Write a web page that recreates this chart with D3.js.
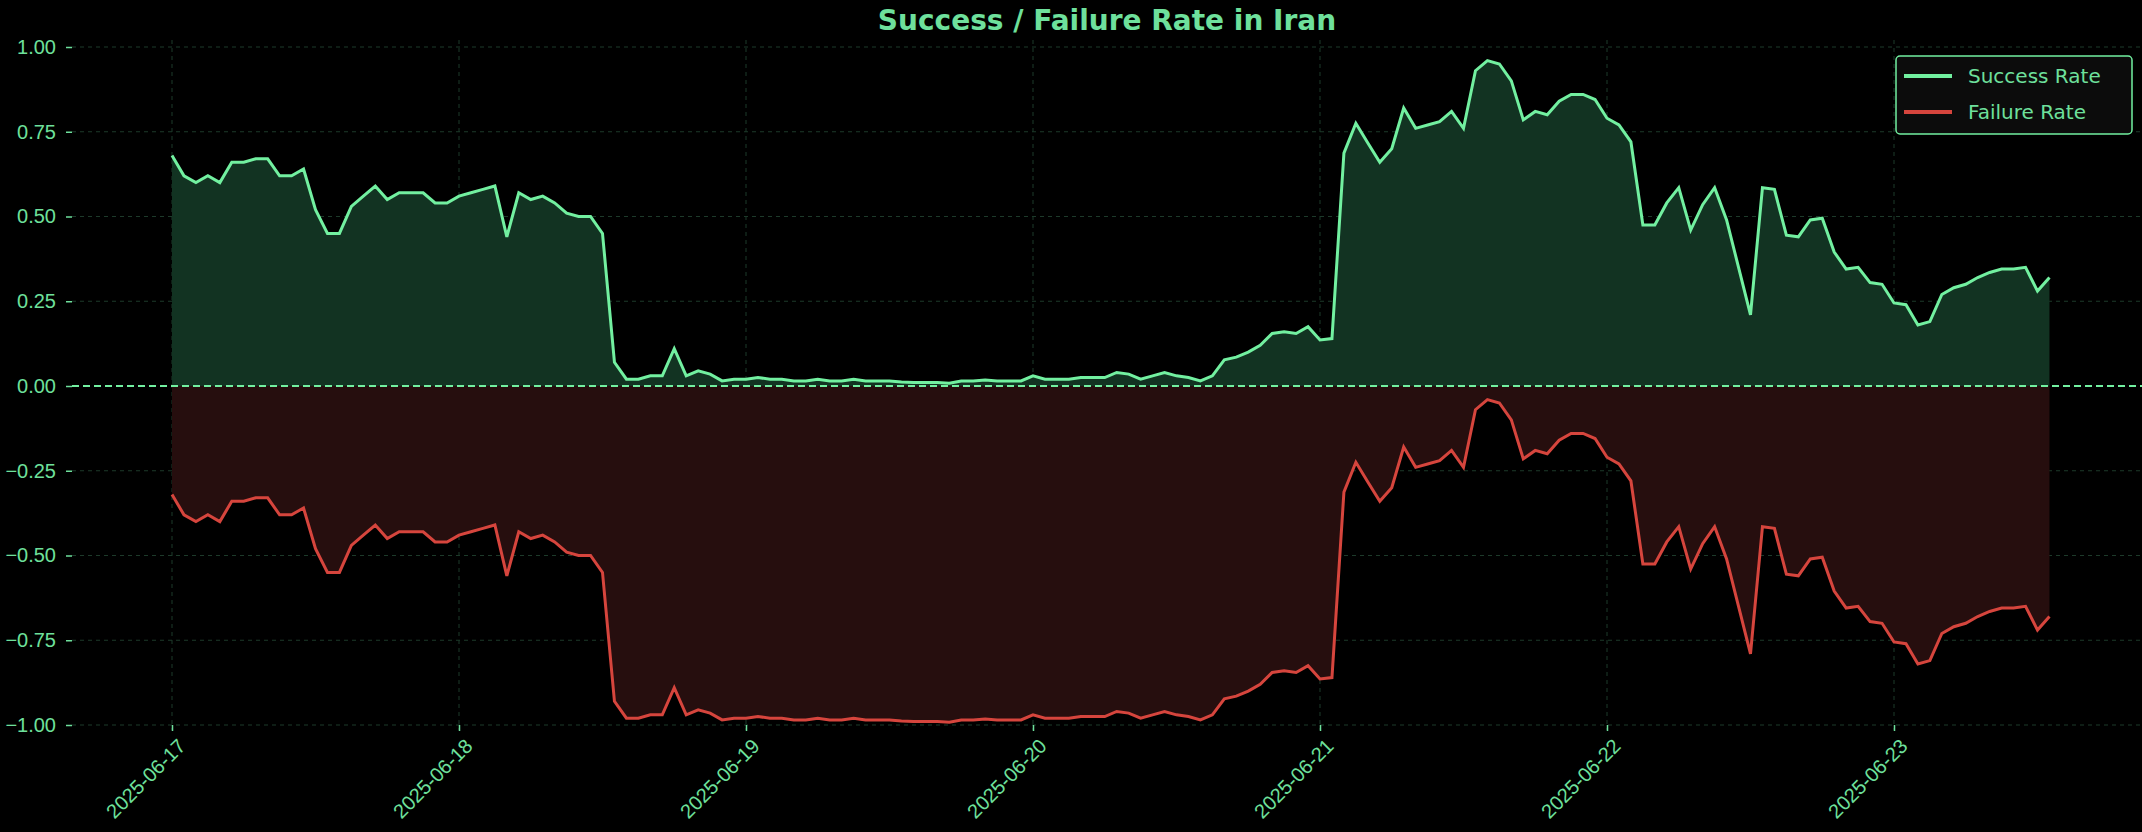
<!DOCTYPE html>
<html>
<head>
<meta charset="utf-8">
<script src="https://cdn.jsdelivr.net/npm/d3@7"></script>
<style>
  body { margin: 0; background: #000; }
  svg { display: block; font-family: "DejaVu Sans", sans-serif; }
</style>
</head>
<body>
<svg id="chart" width="2142" height="832"></svg>
<script>
// hourly samples starting 2025-06-17 00:00
const startTime = "2025-06-17T00:00:00";
const tickLabels = ["2025-06-17", "2025-06-18", "2025-06-19", "2025-06-20", "2025-06-21", "2025-06-22", "2025-06-23"];
const yTicks = [-1, -0.75, -0.5, -0.25, 0, 0.25, 0.5, 0.75, 1];

const successRate = [
  0.68, 0.62, 0.60, 0.62, 0.60, 0.66, 0.66, 0.67, 0.67, 0.62, 0.62, 0.64, 0.52, 0.45, 0.45, 0.53, 0.56, 0.59, 0.55, 0.57, 0.57, 0.57, 0.54, 0.54,
  0.56, 0.57, 0.58, 0.59, 0.44, 0.57, 0.55, 0.56, 0.54, 0.51, 0.50, 0.50, 0.45, 0.07, 0.02, 0.02, 0.03, 0.03, 0.11, 0.03, 0.045, 0.035, 0.015, 0.02,
  0.02, 0.025, 0.02, 0.02, 0.015, 0.015, 0.02, 0.015, 0.015, 0.02, 0.015, 0.015, 0.015, 0.012, 0.01, 0.01, 0.01, 0.008, 0.015, 0.015, 0.018, 0.015, 0.015, 0.015,
  0.03, 0.02, 0.02, 0.02, 0.025, 0.025, 0.025, 0.04, 0.035, 0.02, 0.03, 0.04, 0.03, 0.025, 0.015, 0.03, 0.077, 0.085, 0.10, 0.12, 0.155, 0.16, 0.155, 0.175,
  0.136, 0.14, 0.687, 0.775, 0.717, 0.66, 0.70, 0.82, 0.76, 0.77, 0.78, 0.81, 0.76, 0.93, 0.96, 0.95, 0.90, 0.785, 0.81, 0.80, 0.84, 0.86, 0.86, 0.845,
  0.79, 0.77, 0.72, 0.475, 0.475, 0.54, 0.585, 0.46, 0.535, 0.585, 0.49, 0.35, 0.21, 0.585, 0.58, 0.445, 0.44, 0.49, 0.495, 0.395, 0.345, 0.35, 0.305, 0.30,
  0.245, 0.24, 0.18, 0.19, 0.27, 0.29, 0.30, 0.32, 0.335, 0.345, 0.345, 0.35, 0.28, 0.32
];

const failureRate = [
  -0.32, -0.38, -0.40, -0.38, -0.40, -0.34, -0.34, -0.33, -0.33, -0.38, -0.38, -0.36, -0.48, -0.55, -0.55, -0.47, -0.44, -0.41, -0.45, -0.43, -0.43, -0.43, -0.46, -0.46,
  -0.44, -0.43, -0.42, -0.41, -0.56, -0.43, -0.45, -0.44, -0.46, -0.49, -0.50, -0.50, -0.55, -0.93, -0.98, -0.98, -0.97, -0.97, -0.89, -0.97, -0.955, -0.965, -0.985, -0.98,
  -0.98, -0.975, -0.98, -0.98, -0.985, -0.985, -0.98, -0.985, -0.985, -0.98, -0.985, -0.985, -0.985, -0.988, -0.99, -0.99, -0.99, -0.992, -0.985, -0.985, -0.982, -0.985, -0.985, -0.985,
  -0.97, -0.98, -0.98, -0.98, -0.975, -0.975, -0.975, -0.96, -0.965, -0.98, -0.97, -0.96, -0.97, -0.975, -0.985, -0.97, -0.923, -0.915, -0.90, -0.88, -0.845, -0.84, -0.845, -0.825,
  -0.864, -0.86, -0.313, -0.225, -0.283, -0.34, -0.30, -0.18, -0.24, -0.23, -0.22, -0.19, -0.24, -0.07, -0.04, -0.05, -0.10, -0.215, -0.19, -0.20, -0.16, -0.14, -0.14, -0.155,
  -0.21, -0.23, -0.28, -0.525, -0.525, -0.46, -0.415, -0.54, -0.465, -0.415, -0.51, -0.65, -0.79, -0.415, -0.42, -0.555, -0.56, -0.51, -0.505, -0.605, -0.655, -0.65, -0.695, -0.70,
  -0.755, -0.76, -0.82, -0.81, -0.73, -0.71, -0.70, -0.68, -0.665, -0.655, -0.655, -0.65, -0.72, -0.68
];

const green = "#72f0a0", red = "#d6453d", textColor = "#6ee09c";
const t0 = new Date(startTime);
const times = successRate.map((_, i) => d3.timeHour.offset(t0, i));

const svg = d3.select("#chart");
const plotLeft = 72, plotRight = 2142;

const x = d3.scaleTime()
  .domain([t0, d3.timeDay.offset(t0, 7)])
  .range([172, 172 + 287 * 7]);
const y = d3.scaleLinear().domain([-1, 1]).range([725, 47]);

// grid
const grid = svg.append("g").attr("stroke", "#1d3a2a").attr("stroke-dasharray", "4,4").attr("stroke-width", 1);
yTicks.forEach(v => {
  if (v === 0) return;
  grid.append("line").attr("x1", plotLeft).attr("x2", plotRight).attr("y1", y(v)).attr("y2", y(v));
});
tickLabels.forEach(s => {
  const d = new Date(s + "T00:00:00");
  grid.append("line").attr("x1", x(d)).attr("x2", x(d)).attr("y1", 40).attr("y2", 730);
});

// areas
const succArea = d3.area().x((d, i) => x(times[i])).y0(y(0)).y1(d => y(d));
svg.append("path").datum(successRate).attr("d", succArea).attr("fill", "#123322");
svg.append("path").datum(failureRate).attr("d", succArea).attr("fill", "#260e0e");

// zero line
svg.append("line").attr("x1", plotLeft).attr("x2", plotRight).attr("y1", y(0)).attr("y2", y(0))
  .attr("stroke", green).attr("stroke-width", 2).attr("stroke-dasharray", "7,4");

const line = d3.line().x((d, i) => x(times[i])).y(d => y(d));
svg.append("path").datum(successRate).attr("d", line).attr("fill", "none").attr("stroke", green).attr("stroke-width", 3);
svg.append("path").datum(failureRate).attr("d", line).attr("fill", "none").attr("stroke", red).attr("stroke-width", 3);

// y axis
const yAxis = svg.append("g").attr("transform", `translate(${plotLeft},0)`)
  .call(d3.axisLeft(y).tickValues(yTicks).tickFormat(d3.format(".2f")).tickSize(6).tickPadding(10));
yAxis.select(".domain").remove();
yAxis.selectAll("line").attr("stroke", textColor).attr("stroke-width", 1.5);
yAxis.selectAll("text").attr("fill", textColor).attr("font-size", 20).text(d => d3.format(".2f")(d).replace("-", "\u2212"));

// x axis
const xAxis = svg.append("g").attr("transform", `translate(0,${y(-1)})`)
  .call(d3.axisBottom(x).tickValues(tickLabels.map(s => new Date(s + "T00:00:00"))).tickFormat(d3.timeFormat("%Y-%m-%d")).tickSize(6));
xAxis.select(".domain").remove();
xAxis.selectAll("line").attr("stroke", textColor).attr("stroke-width", 1.5);
xAxis.selectAll("text").attr("fill", textColor).attr("font-size", 20)
  .attr("text-anchor", "end").attr("dy", 0).attr("transform", "translate(8,16) rotate(-45)");

// title
svg.append("text").attr("x", 1107).attr("y", 30).attr("text-anchor", "middle")
  .attr("fill", textColor).attr("font-size", 28).attr("font-weight", "bold")
  .text("Success / Failure Rate in Iran");

// legend
const lg = svg.append("g").attr("transform", "translate(1896,56)");
lg.append("rect").attr("width", 236).attr("height", 78).attr("rx", 4)
  .attr("fill", "#0c0c0c").attr("stroke", green).attr("stroke-width", 1.5);
[["Success Rate", green], ["Failure Rate", red]].forEach(([label, c], i) => {
  const yy = 20 + i * 36;
  lg.append("line").attr("x1", 8).attr("x2", 56).attr("y1", yy).attr("y2", yy).attr("stroke", c).attr("stroke-width", 4);
  lg.append("text").attr("x", 72).attr("y", yy + 7).attr("fill", textColor).attr("font-size", 20).text(label);
});
</script>
</body>
</html>
